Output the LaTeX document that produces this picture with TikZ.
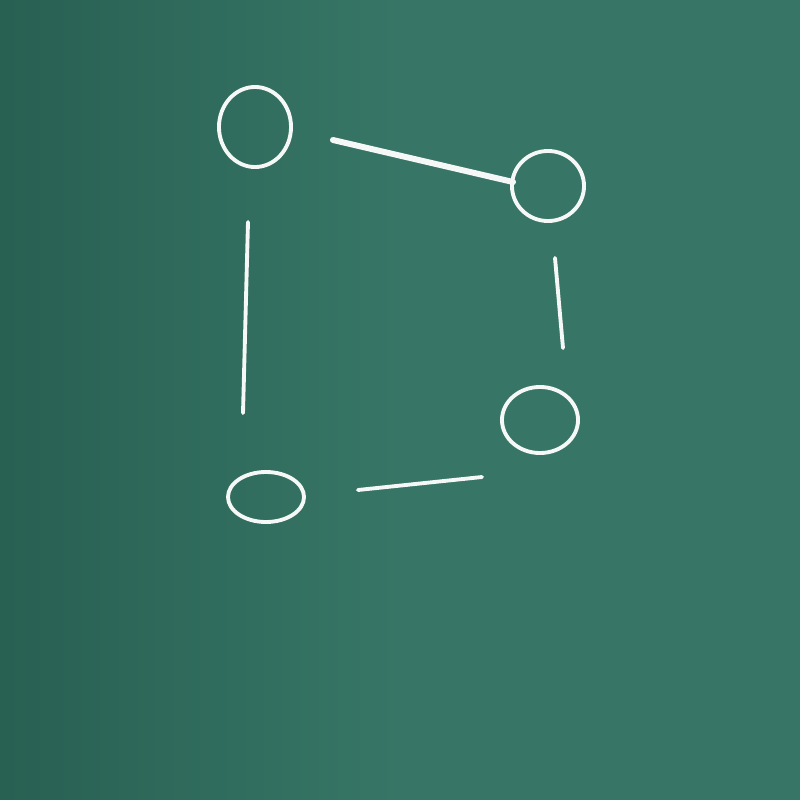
\documentclass[tikz,border=0pt]{standalone}
\usetikzlibrary{shapes.geometric}
\definecolor{board}{RGB}{55,118,102}
\definecolor{boarddark}{RGB}{40,96,82}
\definecolor{chalk}{RGB}{245,248,246}
\begin{document}
\begin{tikzpicture}[x=0.01cm,y=-0.01cm,
  vert/.style={draw=chalk,ellipse,line width=1.1pt,inner sep=0pt},
  edge/.style={draw=chalk,line width=1.1pt,line cap=round}]
\useasboundingbox (0,0) rectangle (800,800);
\shade[left color=boarddark,right color=board,middle color=board] (0,0) rectangle (800,800);
\node[vert,minimum width=0.72cm,minimum height=0.8cm] (a) at (255,127) {};
\node[vert,minimum width=0.72cm,minimum height=0.7cm] (b) at (548,186) {};
\node[vert,minimum width=0.76cm,minimum height=0.66cm] (c) at (540,420) {};
\node[vert,minimum width=0.76cm,minimum height=0.5cm] (d) at (266,497) {};
\draw[edge,line width=1.7pt] ([shift={(40,13)}]a.east) -- ([shift={(3,-4)}]b.west);
\draw[edge] ([shift={(7,35)}]b.south) -- ([shift={(23,-37)}]c.north);
\draw[edge] ([shift={(-18,57)}]c.west) -- ([shift={(52,-7)}]d.east);
\draw[edge] ([shift={(-7,53)}]a.south) -- ([shift={(-23,-57)}]d.north);
\end{tikzpicture}
\end{document}
